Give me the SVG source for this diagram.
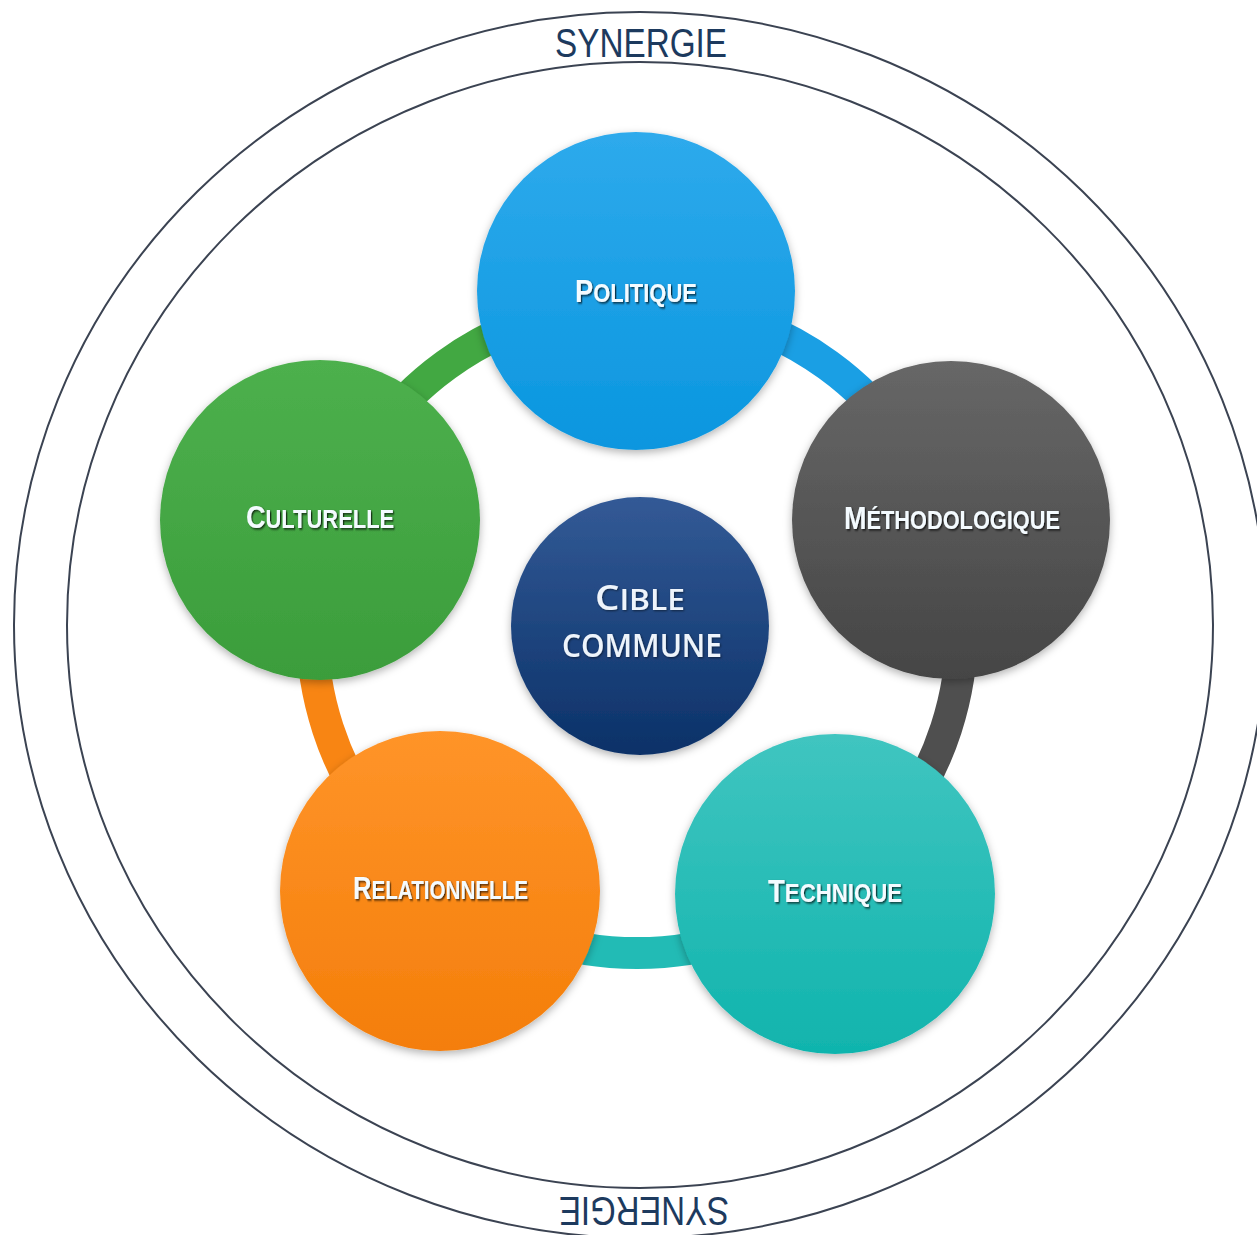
<svg xmlns="http://www.w3.org/2000/svg" width="1257" height="1235" viewBox="0 0 1257 1235">
  <defs>
    <style>
      .frame { fill: none; stroke: #3b4352; stroke-width: 2; }
      .syn { font-family: "Liberation Sans", Arial, sans-serif; font-size: 40px; fill: #1d3a5e; text-anchor: middle; }
      .lbl { font-family: "Liberation Sans", Arial, sans-serif; font-weight: bold; font-size: 25px; fill: #f4fbff; text-anchor: middle; filter: url(#ts); }
      .big { font-size: 31px; }
      .cib { font-family: "Open Sans", "Noto Sans", sans-serif; font-weight: 600; font-size: 33px; fill: #eef4fb; text-anchor: middle; filter: url(#ts2); }
      .cbig { font-size: 34px; }
      .csm { font-size: 28px; }
      .ring { fill: none; stroke-width: 32; }
    </style>
    <filter id="sh" x="-20%" y="-20%" width="140%" height="140%">
      <feDropShadow dx="0" dy="3" stdDeviation="4" flood-color="#000" flood-opacity="0.3"/>
    </filter>
    <filter id="ts" x="-10%" y="-30%" width="120%" height="160%">
      <feDropShadow dx="1.5" dy="1.5" stdDeviation="0.8" flood-color="#000" flood-opacity="0.7"/>
    </filter>
    <filter id="ts2" x="-10%" y="-30%" width="120%" height="160%">
      <feDropShadow dx="1" dy="1" stdDeviation="0.8" flood-color="#000" flood-opacity="0.5"/>
    </filter>
    <linearGradient id="gPol" x1="0" y1="0" x2="0" y2="1">
      <stop offset="0" stop-color="#2eaaec"/><stop offset="1" stop-color="#0a96df"/>
    </linearGradient>
    <linearGradient id="gMet" x1="0" y1="0" x2="0" y2="1">
      <stop offset="0" stop-color="#676767"/><stop offset="1" stop-color="#454545"/>
    </linearGradient>
    <linearGradient id="gTec" x1="0" y1="0" x2="0" y2="1">
      <stop offset="0" stop-color="#40c5c0"/><stop offset="1" stop-color="#10b4ad"/>
    </linearGradient>
    <linearGradient id="gRel" x1="0" y1="0" x2="0" y2="1">
      <stop offset="0" stop-color="#ff9429"/><stop offset="1" stop-color="#f47e0a"/>
    </linearGradient>
    <linearGradient id="gCul" x1="0" y1="0" x2="0" y2="1">
      <stop offset="0" stop-color="#4db04d"/><stop offset="1" stop-color="#3b9d3b"/>
    </linearGradient>
    <linearGradient id="gCib" x1="0" y1="0" x2="0" y2="1">
      <stop offset="0" stop-color="#335a96"/><stop offset="1" stop-color="#0b3168"/>
    </linearGradient>
  </defs>

  <rect width="1257" height="1235" fill="#ffffff"/>

  <g id="frame">
    <ellipse class="frame" cx="640" cy="625" rx="626" ry="613"/>
    <ellipse class="frame" cx="640" cy="625" rx="573" ry="563"/>
    <text class="syn" x="641" y="57" textLength="172" lengthAdjust="spacingAndGlyphs">SYNERGIE</text>
    <text class="syn" x="644" y="1225" textLength="170" lengthAdjust="spacingAndGlyphs" transform="rotate(180 644 1211)">SYNERGIE</text>
  </g>

  <g id="connectors">
    <path class="ring" stroke="#1a9fe4" d="M 637 303 A 325 325 0 0 1 946.1 527.6"/>
    <path class="ring" stroke="#4f4f4f" d="M 946.1 527.6 A 325 325 0 0 1 828.0 891.0"/>
    <path class="ring" stroke="#22bbb5" d="M 828.0 891.0 A 325 325 0 0 1 446.0 891.0"/>
    <path class="ring" stroke="#f88513" d="M 446.0 891.0 A 325 325 0 0 1 327.9 527.6"/>
    <path class="ring" stroke="#42a842" d="M 327.9 527.6 A 325 325 0 0 1 637 303"/>
  </g>

  <g id="node-politique">
    <circle cx="636" cy="291" r="159" fill="url(#gPol)" filter="url(#sh)"/>
    <text class="lbl" transform="translate(636 302) scale(0.879 1)"><tspan class="big">P</tspan>OLITIQUE</text>
  </g>

  <g id="node-methodologique">
    <circle cx="951" cy="520" r="159" fill="url(#gMet)" filter="url(#sh)"/>
    <text class="lbl" transform="translate(952 529) scale(0.871 1)"><tspan class="big">M</tspan>ÉTHODOLOGIQUE</text>
  </g>

  <g id="node-technique">
    <circle cx="835" cy="894" r="160" fill="url(#gTec)" filter="url(#sh)"/>
    <text class="lbl" transform="translate(835 902) scale(0.888 1)"><tspan class="big">T</tspan>ECHNIQUE</text>
  </g>

  <g id="node-relationnelle">
    <circle cx="440" cy="891" r="160" fill="url(#gRel)" filter="url(#sh)"/>
    <text class="lbl" transform="translate(440.5 899) scale(0.826 1)"><tspan class="big">R</tspan>ELATIONNELLE</text>
  </g>

  <g id="node-culturelle">
    <circle cx="320" cy="520" r="160" fill="url(#gCul)" filter="url(#sh)"/>
    <text class="lbl" transform="translate(320 528) scale(0.877 1)"><tspan class="big">C</tspan>ULTURELLE</text>
  </g>

  <g id="node-cible">
    <circle cx="640" cy="626" r="129" fill="url(#gCib)" filter="url(#sh)"/>
    <text class="cib" x="640" y="610" textLength="90" lengthAdjust="spacingAndGlyphs"><tspan class="cbig">C</tspan><tspan class="csm">IBLE</tspan></text>
    <text class="cib" x="642" y="657" textLength="160" lengthAdjust="spacingAndGlyphs">COMMUNE</text>
  </g>
</svg>
